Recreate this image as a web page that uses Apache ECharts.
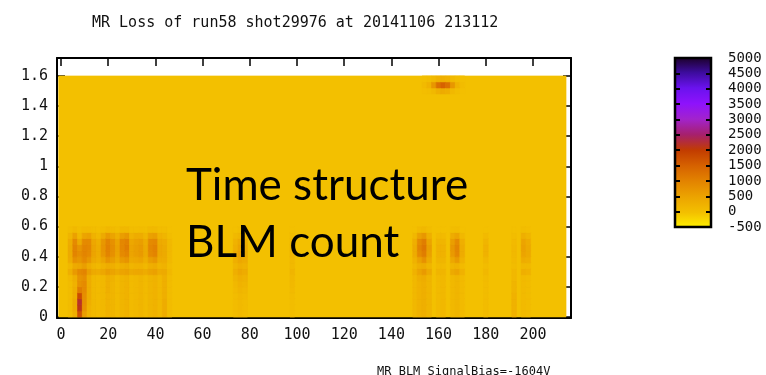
<!DOCTYPE html>
<html>
<head>
<meta charset="utf-8">
<script src="https://cdn.jsdelivr.net/npm/echarts@6/dist/echarts.min.js"></script>
<style>
  html, body { margin: 0; padding: 0; background: #fff; }
  #chart { width: 766px; height: 375px; }
</style>
</head>
<body>
<div id="chart"></div>
<script>
// ---- texts ----
const titleText = 'MR Loss of run58 shot29976 at 20141106 213112';
const footText = 'MR BLM SignalBias=-1604V';
const noteLines = ['Time structure', 'BLM count'];

// ---- axis ticks ----
const xTicks = [0, 20, 40, 60, 80, 100, 120, 140, 160, 180, 200];
const yTicks = [0, 0.2, 0.4, 0.6, 0.8, 1, 1.2, 1.4, 1.6];
const scaleTicks = [-500, 0, 500, 1000, 1500, 2000, 2500, 3000, 3500, 4000, 4500, 5000];

// colour of each scale tick, from -500 up to 5000
const palette = ['#fff200', '#f3c000', '#eca400', '#e38400', '#d66200', '#c23c00',
                 '#a6206c', '#a223cc', '#8e12fc', '#6a12ee', '#3c0c9c', '#1a0024'];

// ---- BLM counts ----
const baseCount = 0;               // level of the quiet region
const mapX = [-1, 214];            // BLM index range covered by the map
const mapY = [0, 1.6];             // time range covered by the map

// lower time rows (row centres)
const lowRowY = [0.02, 0.06, 0.10, 0.14, 0.18, 0.22, 0.26, 0.30, 0.34, 0.38, 0.42, 0.46, 0.50, 0.54, 0.58];
// BLM indices with losses in the lower rows, and their counts per row
const lowColX = [4, 6, 8, 10, 12, 14, 16, 18, 20, 22, 24, 26, 28, 30, 32, 34, 36, 38, 40, 42, 44, 46,
                 74, 76, 78, 98, 150, 152, 154, 156, 160, 162, 166, 168, 170, 180, 192, 196, 198];
const lowCounts = [
  [80, 80, 80, 80, 80, 80, 100, 300, 150, 350, 400, 400, 350, 200, 50],
  [300, 350, 350, 300, 300, 250, 300, 650, 400, 800, 1000, 1000, 900, 550, 120],
  [1700, 2100, 2200, 1800, 1100, 800, 750, 900, 450, 700, 850, 750, 400, 150, 40],
  [600, 750, 800, 850, 900, 900, 850, 1000, 600, 900, 1000, 1000, 900, 500, 100],
  [250, 250, 300, 350, 350, 350, 350, 600, 350, 700, 900, 950, 900, 550, 100],
  [150, 150, 150, 150, 150, 150, 150, 400, 200, 400, 500, 500, 450, 250, 50],
  [100, 100, 100, 100, 100, 100, 100, 350, 150, 300, 350, 350, 300, 150, 30],
  [150, 150, 150, 150, 150, 150, 150, 450, 250, 500, 700, 750, 700, 400, 80],
  [250, 250, 250, 250, 300, 300, 300, 600, 350, 750, 1000, 1050, 1000, 650, 150],
  [200, 200, 200, 200, 200, 200, 250, 500, 300, 600, 800, 850, 800, 500, 100],
  [100, 100, 100, 100, 100, 100, 100, 400, 200, 400, 500, 550, 500, 300, 50],
  [200, 200, 200, 200, 200, 200, 200, 500, 300, 650, 900, 950, 950, 600, 150],
  [250, 250, 250, 250, 250, 250, 250, 550, 350, 750, 1000, 1100, 1050, 700, 150],
  [100, 100, 100, 100, 100, 100, 100, 400, 200, 400, 500, 500, 450, 250, 50],
  [150, 150, 150, 150, 150, 150, 150, 450, 250, 450, 600, 600, 550, 350, 60],
  [200, 200, 200, 200, 200, 200, 200, 450, 250, 500, 650, 650, 600, 350, 80],
  [100, 100, 100, 100, 100, 100, 100, 350, 150, 300, 400, 400, 350, 200, 40],
  [200, 200, 200, 200, 200, 200, 200, 500, 300, 600, 900, 950, 900, 550, 120],
  [250, 250, 250, 250, 250, 250, 250, 550, 350, 700, 1000, 1050, 950, 600, 120],
  [150, 150, 150, 150, 150, 150, 150, 350, 200, 350, 450, 450, 400, 250, 50],
  [350, 350, 350, 300, 300, 300, 300, 400, 250, 350, 400, 400, 350, 200, 50],
  [80, 80, 80, 80, 80, 80, 80, 150, 80, 120, 150, 150, 120, 60, 0],
  [80, 80, 80, 80, 100, 150, 200, 300, 200, 300, 350, 300, 250, 120, 0],
  [120, 120, 120, 150, 200, 250, 300, 450, 300, 450, 550, 500, 400, 200, 40],
  [80, 80, 80, 100, 150, 200, 250, 350, 250, 350, 400, 350, 300, 150, 0],
  [60, 60, 60, 80, 100, 120, 150, 200, 120, 150, 200, 200, 150, 80, 0],
  [150, 150, 150, 150, 150, 150, 150, 250, 150, 250, 350, 350, 300, 150, 0],
  [250, 250, 250, 250, 250, 250, 300, 500, 300, 550, 900, 1000, 900, 550, 100],
  [300, 300, 300, 300, 300, 300, 350, 650, 350, 800, 1100, 1200, 1100, 700, 150],
  [200, 200, 200, 200, 200, 200, 200, 400, 200, 400, 550, 600, 500, 300, 50],
  [100, 100, 100, 100, 100, 100, 100, 200, 100, 200, 250, 250, 200, 100, 0],
  [150, 150, 150, 150, 150, 150, 150, 200, 100, 200, 250, 250, 200, 100, 0],
  [150, 150, 150, 150, 150, 150, 150, 400, 200, 450, 650, 700, 600, 350, 50],
  [200, 200, 200, 200, 200, 200, 200, 500, 250, 650, 950, 1000, 900, 500, 80],
  [100, 100, 100, 100, 100, 100, 100, 250, 100, 250, 350, 350, 300, 150, 0],
  [80, 80, 80, 80, 80, 80, 80, 150, 80, 150, 250, 250, 200, 100, 0],
  [250, 250, 250, 250, 200, 200, 150, 150, 80, 100, 120, 120, 100, 50, 0],
  [100, 100, 100, 100, 100, 100, 100, 300, 150, 350, 500, 550, 500, 300, 50],
  [80, 80, 80, 80, 80, 80, 80, 250, 120, 300, 400, 400, 350, 200, 30]
];

// late-time spot near the end of the window
const topRowY = [1.50, 1.54, 1.58];
const topColX = [154, 156, 158, 160, 162, 164, 166, 168, 170];
const topCounts = [
  [30, 60, 150, 300, 380, 320, 150, 60, 20],
  [100, 250, 700, 1300, 1500, 1300, 700, 250, 80],
  [20, 50, 120, 250, 300, 250, 120, 50, 10]
];

// ---- cell table: [x0, x1, y0, y1, count] ----
const cellW = 2, cellH = 0.04;
const cells = [[mapX[0], mapX[1], mapY[0], mapY[1], baseCount]];
function addBlock(colX, rowY, counts, byRow) {
  colX.forEach(function (x, i) {
    rowY.forEach(function (y, j) {
      const v = byRow ? counts[j][i] : counts[i][j];
      cells.push([x - cellW / 2, x + cellW / 2, y - cellH / 2, y + cellH / 2, v]);
    });
  });
}
addBlock(lowColX, lowRowY, lowCounts, false);
addBlock(topColX, topRowY, topCounts, true);

const chart = echarts.init(document.getElementById('chart'), null, { renderer: 'canvas' });

const monoFont = '"DejaVu Sans Mono", "Liberation Mono", monospace';
const ink = '#111';

function rectItem(params, api) {
  const a = api.coord([api.value(0), api.value(3)]);
  const b = api.coord([api.value(1), api.value(2)]);
  const c = api.visual('color');
  return {
    type: 'rect',
    shape: { x: a[0], y: a[1], width: b[0] - a[0], height: b[1] - a[1] },
    style: { fill: c, stroke: c, lineWidth: 0.6 }
  };
}

const gradStops = palette.map(function (col, i) {
  return { offset: 1 - i / (palette.length - 1), color: col };
});

function scaleBar(params, api) {
  const a = api.coord([api.value(0), api.value(3)]);
  const b = api.coord([api.value(1), api.value(2)]);
  return {
    type: 'rect',
    shape: { x: a[0], y: a[1], width: b[0] - a[0], height: b[1] - a[1] },
    style: {
      fill: new echarts.graphic.LinearGradient(0, 0, 0, 1, gradStops),
      stroke: '#000', lineWidth: 2.5
    }
  };
}

const tickInside = { show: true, inside: true, length: 8, lineStyle: { color: '#000', width: 1.5 } };
const frameLine = { show: true, onZero: false, lineStyle: { color: '#000', width: 2 } };

chart.setOption({
  animation: false,
  backgroundColor: '#fff',
  title: [
    { text: titleText, left: 87, top: 11,
      textStyle: { fontFamily: monoFont, fontSize: 15, fontWeight: 'normal', color: ink } },
    { text: footText, left: 372, top: 361,
      textStyle: { fontFamily: monoFont, fontSize: 12, fontWeight: 'normal', color: ink } }
  ],
  grid: [
    { left: 57, top: 58, width: 514, height: 260 },
    { left: 675, top: 58, width: 36, height: 169 }
  ],
  xAxis: [
    { type: 'value', gridIndex: 0, position: 'bottom', min: -1.7, max: 216.1,
      axisLine: frameLine,
      axisTick: Object.assign({}, tickInside, { customValues: xTicks }),
      axisLabel: { customValues: xTicks, margin: 10, fontFamily: monoFont, fontSize: 15, color: ink },
      splitLine: { show: false } },
    { type: 'value', gridIndex: 0, position: 'top', min: -1.7, max: 216.1,
      axisLine: frameLine,
      axisTick: Object.assign({}, tickInside, { customValues: xTicks }),
      axisLabel: { show: false },
      splitLine: { show: false } },
    { type: 'value', gridIndex: 1, min: 0, max: 1, show: false }
  ],
  yAxis: [
    { type: 'value', gridIndex: 0, position: 'left', min: -0.007, max: 1.719,
      axisLine: frameLine,
      axisTick: Object.assign({}, tickInside, { customValues: yTicks }),
      axisLabel: { customValues: yTicks, margin: 9, fontFamily: monoFont, fontSize: 15, color: ink },
      splitLine: { show: false } },
    { type: 'value', gridIndex: 0, position: 'right', min: -0.007, max: 1.719,
      axisLine: frameLine,
      axisTick: Object.assign({}, tickInside, { customValues: yTicks }),
      axisLabel: { show: false },
      splitLine: { show: false } },
    { type: 'value', gridIndex: 1, position: 'left', min: -500, max: 5000, interval: 500, z: 5,
      axisLine: { show: false },
      axisTick: { show: true, inside: true, length: 5, lineStyle: { color: '#000', width: 2 } },
      axisLabel: { show: false },
      splitLine: { show: false } },
    { type: 'value', gridIndex: 1, position: 'right', min: -500, max: 5000, interval: 500, z: 5,
      axisLine: { show: false },
      axisTick: { show: true, inside: true, length: 5, lineStyle: { color: '#000', width: 2 } },
      axisLabel: { margin: 17, fontFamily: monoFont, fontSize: 14, color: ink,
                   formatter: function (v) { return String(v); } },
      splitLine: { show: false } }
  ],
  visualMap: {
    type: 'continuous', show: false, seriesIndex: 0, dimension: 4,
    min: scaleTicks[0], max: scaleTicks[scaleTicks.length - 1],
    inRange: { color: palette }
  },
  series: [
    { type: 'custom', name: 'BLM count', xAxisIndex: 0, yAxisIndex: 0,
      renderItem: rectItem, encode: { x: [0, 1], y: [2, 3] }, data: cells, clip: true },
    { type: 'custom', name: 'scale', xAxisIndex: 2, yAxisIndex: 2,
      renderItem: scaleBar, encode: { x: [0, 1], y: [2, 3] },
      data: [[0, 1, scaleTicks[0], scaleTicks[scaleTicks.length - 1]]] }
  ],
  graphic: noteLines.map(function (line, i) {
    return {
      type: 'text', left: 186, top: 164 + i * 57, z: 10,
      style: { text: line, font: '44px Lato, "Open Sans", sans-serif', fill: '#000' }
    };
  })
});
</script>
</body>
</html>
